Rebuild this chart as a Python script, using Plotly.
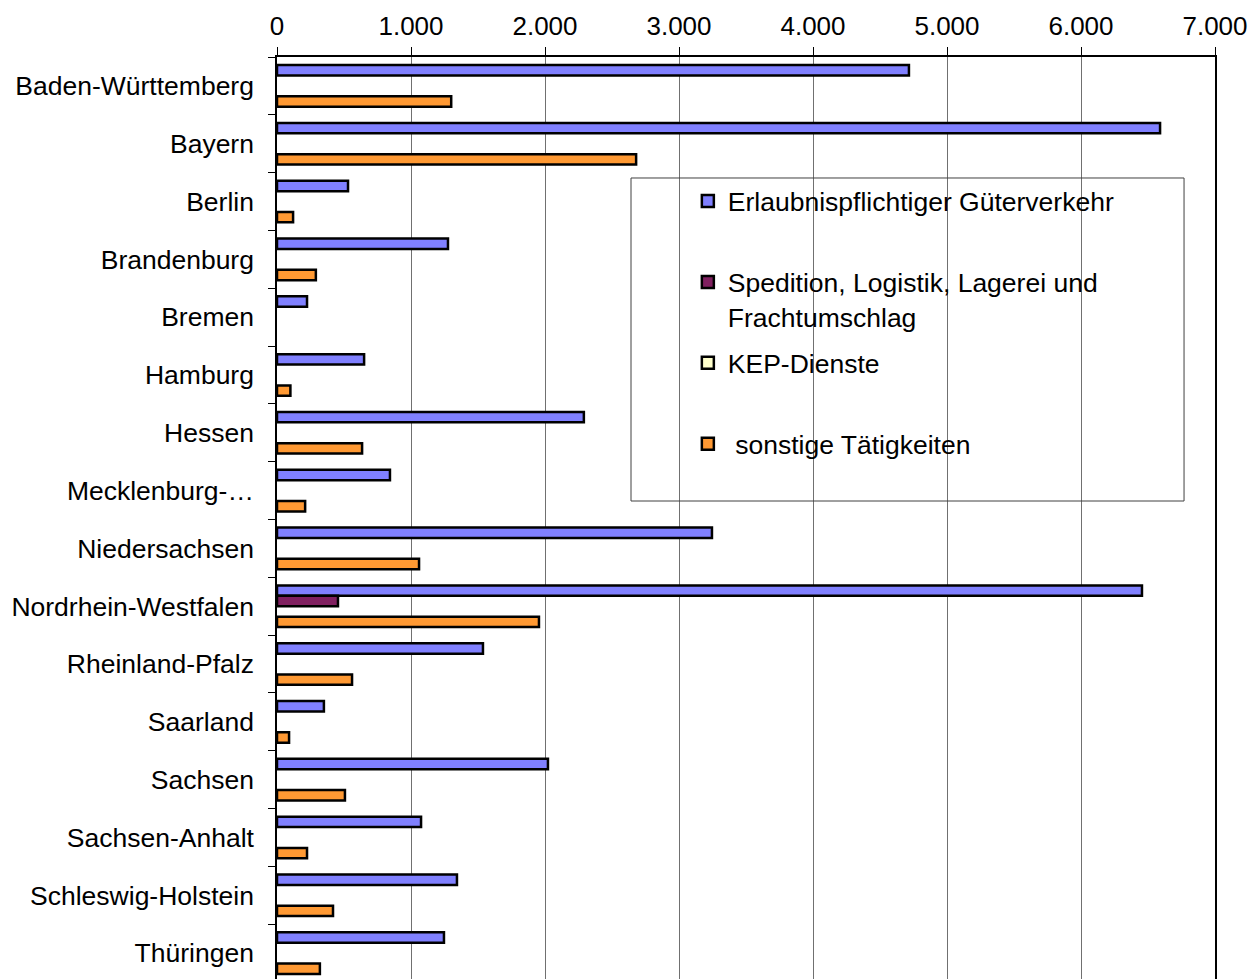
import plotly.graph_objects as go

categories = ["Baden-Württemberg", "Bayern", "Berlin", "Brandenburg", "Bremen", "Hamburg",
              "Hessen", "Mecklenburg-Vorpommern", "Niedersachsen", "Nordrhein-Westfalen",
              "Rheinland-Pfalz", "Saarland", "Sachsen", "Sachsen-Anhalt",
              "Schleswig-Holstein", "Thüringen"]
tick_labels = ["Baden-Württemberg", "Bayern", "Berlin", "Brandenburg", "Bremen", "Hamburg",
               "Hessen", "Mecklenburg-…", "Niedersachsen", "Nordrhein-Westfalen",
               "Rheinland-Pfalz", "Saarland", "Sachsen", "Sachsen-Anhalt",
               "Schleswig-Holstein", "Thüringen"]

guterverkehr = [4716, 6590, 530, 1276, 224, 650, 2290, 843, 3246, 6455, 1537, 350, 2022, 1075, 1343, 1246]
spedition = [None, None, None, None, None, None, None, None, None, 455, None, None, None, None, None, None]
kep = [None] * 16
sonstige = [1300, 2680, 120, 290, None, 100, 635, 210, 1060, 1955, 560, 90, 507, 224, 418, 320]

series_names = ["Erlaubnispflichtiger Güterverkehr<br> ",
                "Spedition, Logistik, Lagerei und<br>Frachtumschlag",
                "KEP-Dienste<br> ",
                " sonstige Tätigkeiten<br> "]
series_values = [guterverkehr, spedition, kep, sonstige]
series_colors = ["#8080FF", "#802060", "#FFFFCC", "#FF9933"]

FONT = "Liberation Sans, Arial, sans-serif"
FS = 26.5

fig = go.Figure()
for i, (name, vals, col) in enumerate(zip(series_names, series_values, series_colors)):
    fig.add_trace(go.Bar(
        y=categories, x=vals, name=name, orientation="h",
        marker=dict(color=col, line=dict(color="black", width=2.5)),
        legendgroup=f"g{i}",
    ))

fig.update_layout(
    width=1251, height=979,
    margin=dict(l=269, r=44, t=49, b=5),
    paper_bgcolor="white", plot_bgcolor="white",
    separators=",.",
    barmode="group", bargap=0.28, bargroupgap=0,
    font=dict(family=FONT, size=FS, color="black"),
    showlegend=True,
    legend=dict(
        x=0.438, y=0.870, xanchor="left", yanchor="top",
        bgcolor="rgba(0,0,0,0)", borderwidth=0,
        traceorder="grouped", tracegroupgap=9, valign="top",
        font=dict(family=FONT, size=FS, color="black"),
    ),
    xaxis=dict(
        side="top", range=[0, 7000], dtick=1000, tickformat=",d",
        showgrid=True, gridcolor="#707070", gridwidth=1,
        ticks="outside", ticklen=8, tickcolor="black",
        showline=True, linecolor="black", linewidth=1.5,
        zeroline=False, ticklabelstandoff=2, automargin=False,
        tickfont=dict(family=FONT, size=26, color="black"),
    ),
    yaxis=dict(
        autorange="reversed", type="category",
        tickmode="array", tickvals=categories, ticktext=tick_labels,
        tickson="boundaries", ticks="outside", ticklen=7, tickcolor="black",
        showline=True, linecolor="black", linewidth=1.5, mirror=True,
        showgrid=False, ticklabelstandoff=16, automargin=False,
        tickfont=dict(family=FONT, size=FS, color="black"),
    ),
    shapes=[dict(type="rect", xref="paper", yref="paper",
                 x0=0.3774, x1=0.967, y0=0.52, y1=0.8692,
                 line=dict(color="#404040", width=1), fillcolor="rgba(0,0,0,0)")],
)

fig.write_html("out.html")
